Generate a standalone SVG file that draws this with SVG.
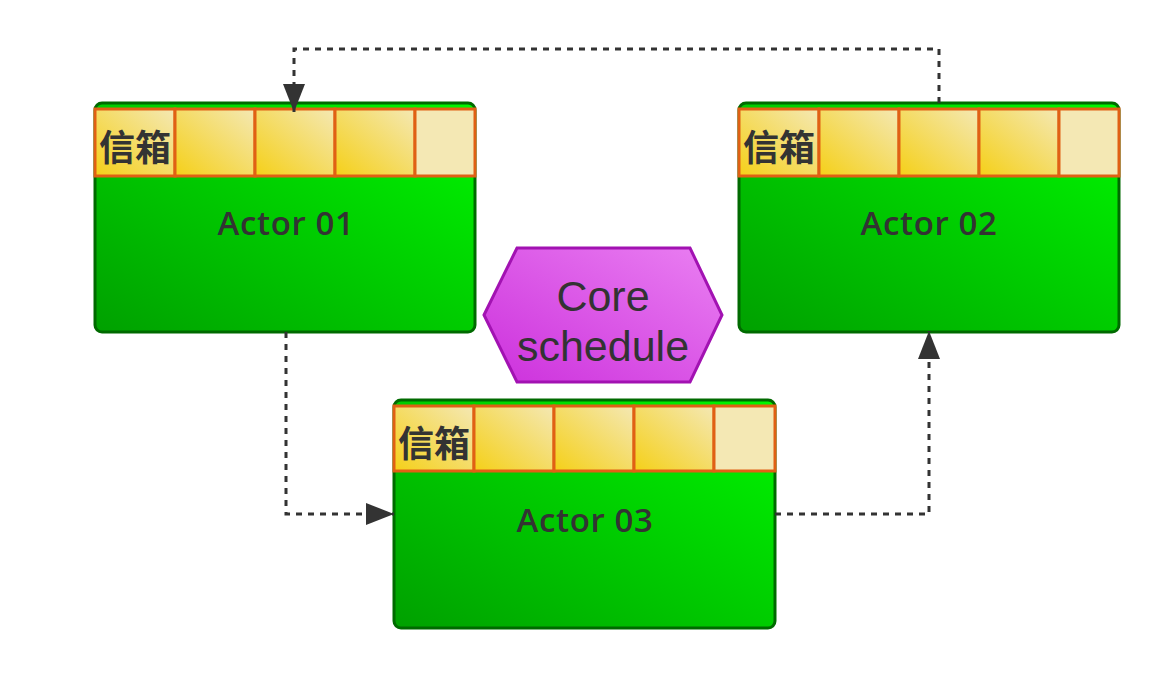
<svg xmlns="http://www.w3.org/2000/svg" width="1169" height="678" viewBox="0 0 1169 678">
<defs>
<linearGradient id="gGreen" x1="0" y1="1" x2="1" y2="0">
<stop offset="0" stop-color="#00a000"/>
<stop offset="1" stop-color="#00f800"/>
</linearGradient>
<linearGradient id="gCell" x1="0" y1="1" x2="1" y2="0">
<stop offset="0" stop-color="#f5d018"/>
<stop offset="1" stop-color="#f4e8b4"/>
</linearGradient>
<linearGradient id="gHex" x1="0" y1="1" x2="1" y2="0">
<stop offset="0" stop-color="#cc30dc"/>
<stop offset="1" stop-color="#ea80f2"/>
</linearGradient>
<marker id="ah" viewBox="0 0 28 22" refX="28" refY="11" markerWidth="28" markerHeight="22" markerUnits="userSpaceOnUse" orient="auto">
<path d="M0,0 L28,11 L0,22 Z" fill="#333"/>
</marker>
</defs>
<style>
.body{fill:url(#gGreen);stroke:#006a00;stroke-width:3}
.cell{fill:url(#gCell);stroke:#e06014;stroke-width:3}
.last{fill:#f4e8b4;stroke:#e06014;stroke-width:3}
.lbl{font-family:"Open Sans","Liberation Sans",sans-serif;font-size:33px;font-weight:600;fill:#333;text-anchor:middle;letter-spacing:0.6px}
.mb{font-family:"Noto Sans CJK SC","Noto Sans CJK JP",sans-serif;font-size:36px;font-weight:bold;fill:#333}
.core{font-family:"Liberation Sans","Noto Sans",sans-serif;font-size:43px;fill:#333;text-anchor:middle}
.conn{fill:none;stroke:#333;stroke-width:3;stroke-dasharray:6 6}
</style>
<rect width="1169" height="678" fill="#ffffff"/>

<g id="actor01">
<rect class="body" x="95" y="103" width="380" height="229" rx="7"/>
<rect class="cell" x="95" y="109" width="80" height="67"/>
<rect class="cell" x="175" y="109" width="80" height="67"/>
<rect class="cell" x="255" y="109" width="80" height="67"/>
<rect class="cell" x="335" y="109" width="80" height="67"/>
<rect class="last" x="415" y="109" width="60" height="67"/>
<text class="mb" x="99" y="161">信箱</text>
<text class="lbl" x="286" y="235">Actor 01</text>
</g>

<g id="actor02">
<rect class="body" x="739" y="103" width="380" height="229" rx="7"/>
<rect class="cell" x="739" y="109" width="80" height="67"/>
<rect class="cell" x="819" y="109" width="80" height="67"/>
<rect class="cell" x="899" y="109" width="80" height="67"/>
<rect class="cell" x="979" y="109" width="80" height="67"/>
<rect class="last" x="1059" y="109" width="60" height="67"/>
<text class="mb" x="743" y="161">信箱</text>
<text class="lbl" x="929" y="235">Actor 02</text>
</g>

<g id="actor03">
<rect class="body" x="394" y="400" width="381" height="228" rx="7"/>
<rect class="cell" x="394" y="406" width="80" height="65"/>
<rect class="cell" x="474" y="406" width="80" height="65"/>
<rect class="cell" x="554" y="406" width="80" height="65"/>
<rect class="cell" x="634" y="406" width="80" height="65"/>
<rect class="last" x="714" y="406" width="61" height="65"/>
<text class="mb" x="398" y="457">信箱</text>
<text class="lbl" x="585" y="532">Actor 03</text>
</g>

<g id="core">
<polygon points="484,315 517,248 690,248 722,315 690,382 517,382" fill="url(#gHex)" stroke="#a212b2" stroke-width="3"/>
<text class="core" x="603" y="311">Core</text>
<text class="core" x="603" y="361">schedule</text>
</g>

<g id="connectors">
<path class="conn" d="M939,103 L939,49 L294,49 L294,112" marker-end="url(#ah)"/>
<path class="conn" d="M286,332 L286,514 L394,514" marker-end="url(#ah)"/>
<path class="conn" d="M775,514 L929,514 L929,331" marker-end="url(#ah)"/>
</g>
</svg>
